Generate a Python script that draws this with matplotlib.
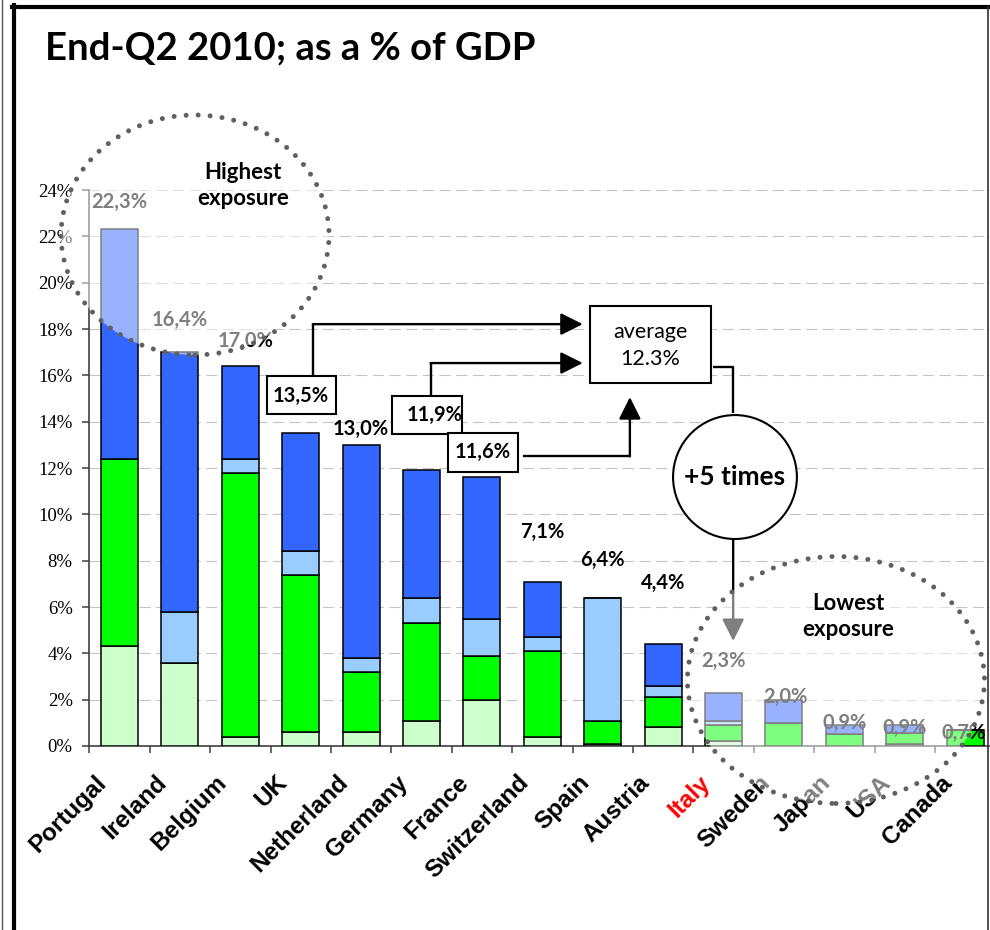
import numpy as np
import matplotlib
matplotlib.use("Agg")
import matplotlib.pyplot as plt
from matplotlib.patches import Ellipse, Rectangle
from matplotlib.lines import Line2D
from matplotlib.transforms import ScaledTranslation

countries = ["Portugal", "Ireland", "Belgium", "UK", "Netherland", "Germany", "France",
             "Switzerland", "Spain", "Austria", "Italy", "Sweden", "Japan", "USA", "Canada"]

# exposure split in four parts, % of GDP
part1 = [4.3, 3.6, 0.4, 0.6, 0.6, 1.1, 2.0, 0.4, 0.1, 0.8, 0.2, 0.0, 0.0, 0.1, 0.0]
part2 = [8.1, 0.0, 11.4, 6.8, 2.6, 4.2, 1.9, 3.7, 1.0, 1.3, 0.7, 1.0, 0.5, 0.45, 0.7]
part3 = [0.0, 2.2, 0.6, 1.0, 0.6, 1.1, 1.6, 0.6, 5.3, 0.5, 0.2, 0.0, 0.0, 0.0, 0.0]
part4 = [9.9, 11.2, 4.0, 5.1, 9.2, 5.5, 6.1, 2.4, 0.0, 1.8, 1.2, 1.0, 0.4, 0.35, 0.0]
colors = ["#CCFFCC", "#00FF00", "#99CCFF", "#3366FF"]

# value labels: (category position, label, height of the label)
value_labels = [(0, "22,3%", 23.5), (1, "16,4%", 18.4), (2.08, "17,0%", 17.5),
                (4, "13,0%", 13.7), (7, "7,1%", 9.25), (8, "6,4%", 8.05),
                (9, "4,4%", 7.05), (10, "2,3%", 3.67), (11.02, "2,0%", 2.1),
                (12, "0,9%", 0.99), (13, "0,9%", 0.78), (13.97, "0,7%", 0.56)]
average = "12.3%"

W, H = 990, 930
fig = plt.figure(figsize=(W / 100, H / 100), dpi=100)

def fx(x):
    return x / W

def fy(y):
    return 1 - y / H

ax = fig.add_axes([fx(89.3), fy(746), 906 / W, 556 / H])
x = np.arange(len(countries))
bottom = np.zeros(len(countries))
for part, c in zip([part1, part2, part3, part4], colors):
    ax.bar(x, part, 0.61, bottom=bottom, color=c, edgecolor="black", lw=1.1, zorder=3)
    bottom += np.array(part)

ax.set_xlim(-0.5, 14.5)
ax.set_ylim(0, 24)
ax.set_yticks(np.arange(0, 25, 2))
ax.set_yticklabels([f"{v}%" for v in range(0, 25, 2)], family="Liberation Serif", fontsize=13.5)
ax.set_xticks(np.arange(-0.5, 15, 1))
ax.set_xticklabels([])
ax.tick_params(axis="both", direction="out", length=5, width=1.1, color="#404040")
ax.tick_params(axis="y", pad=7)
ax.yaxis.grid(True, color="#C4C4C4", lw=0.8, linestyle=(0, (10, 5)), zorder=0)
ax.set_axisbelow(True)
for s in ["top", "right"]:
    ax.spines[s].set_visible(False)
for s in ["left", "bottom"]:
    ax.spines[s].set_color("#404040")
    ax.spines[s].set_linewidth(1.2)

# rotated country names
off = ScaledTranslation(-0.17, -0.33, fig.dpi_scale_trans)
for i, name in enumerate(countries):
    ax.text(i, 0, name, transform=ax.get_xaxis_transform() + off, rotation=45,
            rotation_mode="anchor", ha="right", va="center", fontsize=17.5,
            family="Liberation Sans", weight="bold",
            color="red" if name == "Italy" else "black", clip_on=False)

lab_font = dict(family="Lato", weight="bold", fontsize=14.5, ha="center", va="center", zorder=6)
for pos, txt, h in value_labels:
    ax.text(pos, h, txt, **lab_font)

# boxed values feeding the average
boxes = [((2.44, 14.33), 1.14, 1.64, (3.0, 15.1), "13,5%"),
         ((4.51, 13.47), 1.16, 1.64, (5.22, 14.29), "11,9%"),
         ((5.44, 11.83), 1.16, 1.68, (6.01, 12.69), "11,6%")]
for (bx, by), bw, bh, (tx, ty), txt in boxes:
    ax.add_patch(Rectangle((bx, by), bw, bh, facecolor="white", edgecolor="black",
                           lw=1.5, zorder=5))
    ax.text(tx, ty, txt, **lab_font)

ax.add_patch(Rectangle((7.79, 15.67), 2.0, 3.32, facecolor="white", edgecolor="black",
                       lw=1.5, zorder=5))
ax.text(8.79, 17.87, "average", family="Lato", fontsize=15.5, ha="center", va="center", zorder=6)
ax.text(8.79, 16.70, average, family="Lato", fontsize=15.5, ha="center", va="center", zorder=6)

arrow = dict(arrowstyle="-|>,head_length=0.9,head_width=0.45", color="black", lw=1.7,
             mutation_scale=15, shrinkA=0, shrinkB=0)
line = dict(color="black", lw=1.7, zorder=4, solid_capstyle="butt")
ax.plot([3.21, 3.21], [15.97, 18.21], **line)
ax.annotate("", xy=(7.67, 18.21), xytext=(3.2, 18.21), arrowprops=arrow, zorder=4)
ax.plot([5.16, 5.16], [15.11, 16.53], **line)
ax.annotate("", xy=(7.67, 16.53), xytext=(5.15, 16.53), arrowprops=arrow, zorder=4)
ax.plot([6.68, 8.45], [12.52, 12.52], **line)
ax.annotate("", xy=(8.45, 15.06), xytext=(8.45, 12.5), arrowprops=arrow, zorder=4)
ax.plot([9.83, 10.16, 10.16], [16.36, 16.36, 14.37], **line)
ax.annotate("", xy=(10.16, 4.53), xytext=(10.16, 8.89), arrowprops=arrow, zorder=4)

ax.add_patch(Ellipse((10.19, 11.61), 2.05, 5.35, facecolor="white", edgecolor="black",
                     lw=1.5, zorder=5))
ax.text(10.19, 11.61, "+5 times", family="Lato", weight="bold", fontsize=19,
        ha="center", va="center", zorder=6)

# dotted circles marking both ends of the ranking
for cx, cy, rw, rh in [(195, 235, 268, 240), (836, 680, 297, 247)]:
    e = Ellipse((fx(cx), fy(cy)), rw / W, rh / H, transform=fig.transFigure,
                facecolor=(1, 1, 1, 0.5), edgecolor="#606060", lw=3.6,
                linestyle=(0, (0.001, 2.4)), zorder=10)
    e.set_capstyle("round")
    fig.add_artist(e)

fig.text(fx(243), fy(185.5), "Highest\nexposure", family="Lato", weight="bold", fontsize=16,
         ha="center", va="center", linespacing=1.3, zorder=11)
fig.text(fx(848), fy(616.5), "Lowest\nexposure", family="Lato", weight="bold", fontsize=16,
         ha="center", va="center", linespacing=1.3, zorder=11)

fig.text(fx(45), fy(59), "End-Q2 2010; as a % of GDP", family="Lato", weight="bold",
         fontsize=27.5, va="baseline")

# frame around the figure
fig.add_artist(Line2D([fx(12), fx(990)], [fy(7), fy(7)], color="black", lw=3,
                      transform=fig.transFigure))
fig.add_artist(Line2D([fx(14), fx(14)], [fy(5), 0], color="black", lw=3,
                      transform=fig.transFigure))
fig.add_artist(Line2D([fx(988), fx(988)], [fy(7), 0], color="#333333", lw=1.2,
                      transform=fig.transFigure))
fig.add_artist(Line2D([fx(1.5), fx(1.5)], [1, 0], color="#555555", lw=1,
                      transform=fig.transFigure))

fig.savefig("out.png", dpi=100)
